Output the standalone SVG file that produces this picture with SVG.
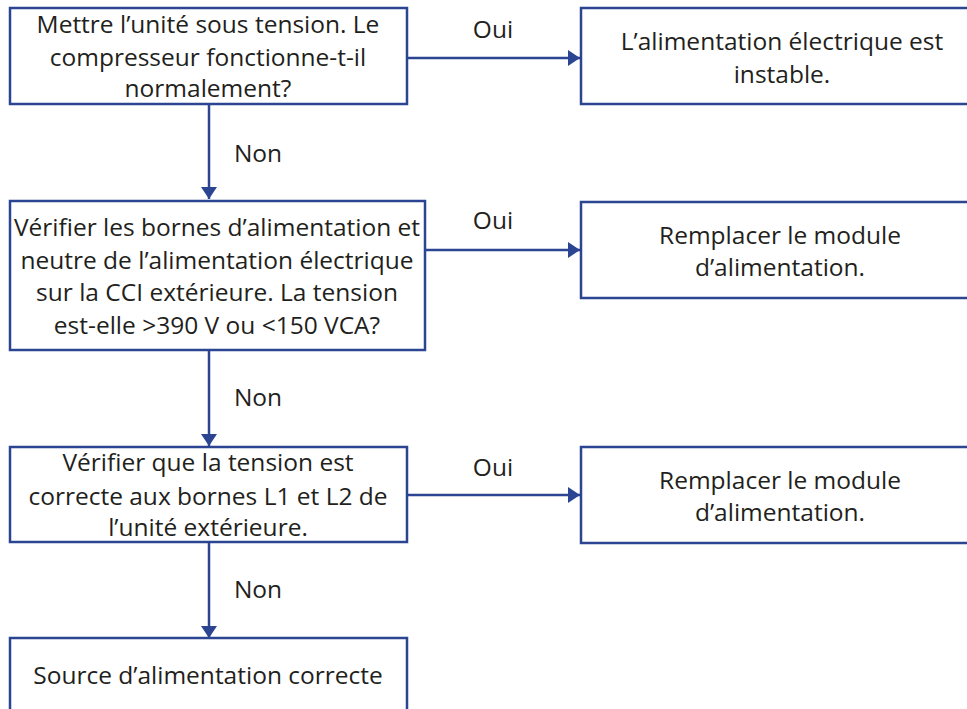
<svg xmlns="http://www.w3.org/2000/svg" width="967" height="709" viewBox="0 0 967 709">
<defs>
<style>
.box{fill:#fff;stroke:#2b4593;stroke-width:2.5}
.ln{fill:none;stroke:#2b4593;stroke-width:2.5}
text{font-family:"Open Sans","Liberation Sans",sans-serif;font-size:24.5px;fill:#231f20;text-anchor:middle}
</style>
<marker id="ah" markerWidth="12" markerHeight="16" refX="12" refY="8" orient="auto" markerUnits="userSpaceOnUse">
<path d="M0,0 L12,8 L0,16 Z" fill="#2b4593"/>
</marker>
</defs>
<rect width="967" height="709" fill="#fff"/>
<g id="connectors">
<line class="ln" x1="407" y1="58" x2="580" y2="58" marker-end="url(#ah)"/>
<line class="ln" x1="425" y1="250" x2="580" y2="250" marker-end="url(#ah)"/>
<line class="ln" x1="407" y1="495" x2="580" y2="495" marker-end="url(#ah)"/>
<line class="ln" x1="209" y1="104" x2="209" y2="199" marker-end="url(#ah)"/>
<line class="ln" x1="209" y1="350" x2="209" y2="446" marker-end="url(#ah)"/>
<line class="ln" x1="209" y1="542" x2="209" y2="638" marker-end="url(#ah)"/>
<text x="493" y="38">Oui</text>
<text x="493" y="229">Oui</text>
<text x="493" y="476">Oui</text>
<text x="258" y="162">Non</text>
<text x="258" y="406">Non</text>
<text x="258" y="598">Non</text>
</g>
<g id="q1">
<rect class="box" x="10" y="8" width="397" height="96"/>
<text x="208" y="33">Mettre l’unité sous tension. Le</text>
<text x="208" y="66">compresseur fonctionne-t-il</text>
<text x="208" y="97">normalement?</text>
</g>
<g id="r1">
<rect class="box" x="581" y="8" width="400" height="96"/>
<text x="782" y="50">L’alimentation électrique est</text>
<text x="782" y="83">instable.</text>
</g>
<g id="q2">
<rect class="box" x="10" y="201" width="415" height="149"/>
<text x="217" y="236">Vérifier les bornes d’alimentation et</text>
<text x="217" y="269">neutre de l’alimentation électrique</text>
<text x="217" y="301">sur la CCI extérieure. La tension</text>
<text x="217" y="334">est-elle &gt;390 V ou &lt;150 VCA?</text>
</g>
<g id="r2">
<rect class="box" x="581" y="202" width="400" height="96"/>
<text x="780" y="244">Remplacer le module</text>
<text x="780" y="276">d’alimentation.</text>
</g>
<g id="q3">
<rect class="box" x="10" y="447" width="397" height="95"/>
<text x="208" y="471">Vérifier que la tension est</text>
<text x="208" y="505">correcte aux bornes L1 et L2 de</text>
<text x="208" y="536">l’unité extérieure.</text>
</g>
<g id="r3">
<rect class="box" x="581" y="447" width="400" height="96"/>
<text x="780" y="489">Remplacer le module</text>
<text x="780" y="521">d’alimentation.</text>
</g>
<g id="end">
<rect class="box" x="10" y="638" width="397" height="80"/>
<text x="208" y="684">Source d’alimentation correcte</text>
</g>
</svg>
